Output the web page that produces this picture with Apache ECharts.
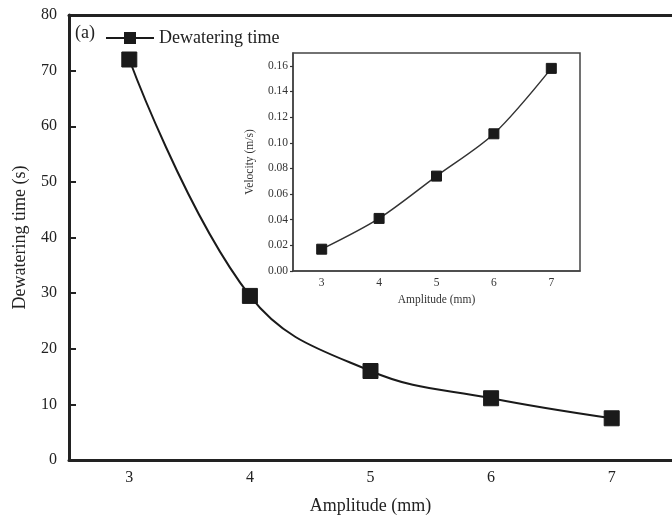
<!DOCTYPE html>
<html><head><meta charset="utf-8">
<script src="https://cdn.jsdelivr.net/npm/echarts@6/dist/echarts.min.js"></script>
<style>html,body{margin:0;padding:0;background:#fff}#c{width:672px;height:524px}</style>
</head><body><div id="c"></div>
<script>
const amplitudes = ['3','4','5','6','7'];
const dewateringTime = [72, 29.5, 16, 11.1, 7.5];
const velocity = [0.017, 0.041, 0.074, 0.107, 0.158];
const mainYTicks = [0,10,20,30,40,50,60,70,80];
const insetYTicks = [0,0.02,0.04,0.06,0.08,0.10,0.12,0.14,0.16];

const F = 'Liberation Serif, Times New Roman, serif';
const C = '#1a1a1a';
const chart = echarts.init(document.getElementById('c'));
chart.setOption({
  animation:false,
  backgroundColor:'#fff',
  graphic:[{type:'text', left:75, top:24, style:{text:'(a)', font:'18px '+F, fill:'#222'}}],
  legend:{left:100, top:24, data:['Dewatering time'], itemWidth:48, itemHeight:15,
    textStyle:{fontFamily:F, fontSize:18, color:'#222'}},
  grid:[
    {left:69, top:15, width:609, height:445},
    {left:293, top:53, width:287, height:218, show:true, borderColor:'#444', borderWidth:1.5, backgroundColor:'#fff', z:5}
  ],
  xAxis:[
    {type:'category', gridIndex:0, data:amplitudes, boundaryGap:true,
     name:'Amplitude (mm)', nameLocation:'middle', nameGap:37,
     nameTextStyle:{fontFamily:F, fontSize:18, color:'#222'},
     axisLine:{lineStyle:{color:'#222', width:3}},
     axisTick:{inside:true, alignWithLabel:true, length:6, lineStyle:{width:2, color:'#222'}},
     axisLabel:{fontFamily:F, fontSize:16, color:'#222', margin:10}},
    {type:'category', gridIndex:1, data:amplitudes, boundaryGap:true,
     name:'Amplitude (mm)', nameLocation:'middle', nameGap:23,
     nameTextStyle:{fontFamily:F, fontSize:11.5, color:'#333'},
     axisLine:{lineStyle:{color:'#444', width:1.5}},
     axisTick:{inside:false, alignWithLabel:true, length:3, lineStyle:{width:1.2, color:'#333'}},
     axisLabel:{fontFamily:F, fontSize:11.5, color:'#333', margin:6}, z:6},
    {type:'category', gridIndex:0, position:'top', data:amplitudes, boundaryGap:true,
     axisLine:{lineStyle:{color:'#222', width:3}},
     axisTick:{show:false}, axisLabel:{show:false}}
  ],
  yAxis:[
    {type:'value', gridIndex:0, min:0, max:80, interval:10,
     name:'Dewatering time (s)', nameLocation:'middle', nameGap:40,
     nameTextStyle:{fontFamily:F, fontSize:18, color:'#222'},
     axisLine:{show:true, lineStyle:{color:'#222', width:3}},
     axisTick:{show:true, inside:true, length:7, lineStyle:{width:2, color:'#222'}},
     splitLine:{show:false},
     axisLabel:{fontFamily:F, fontSize:16, color:'#222', margin:12}},
    {type:'value', gridIndex:1, min:0, max:0.17, interval:0.02,
     name:'Velocity (m/s)', nameLocation:'middle', nameGap:37,
     nameTextStyle:{fontFamily:F, fontSize:11.5, color:'#333'},
     axisLine:{show:true, lineStyle:{color:'#444', width:1.5}},
     axisTick:{show:true, inside:false, length:3, lineStyle:{width:1.2, color:'#333'}},
     splitLine:{show:false}, z:6,
     axisLabel:{fontFamily:F, fontSize:11.5, color:'#333', margin:5, showMaxLabel:false,
       formatter:v=>v.toFixed(2)}}
  ],
  series:[
    {name:'Dewatering time', type:'line', xAxisIndex:0, yAxisIndex:0, data:dewateringTime,
     smooth:0.4, symbol:'rect', symbolSize:15, showAllSymbol:true,
     lineStyle:{color:C, width:2}, itemStyle:{color:C, borderColor:C}},
    {name:'Velocity', type:'line', xAxisIndex:1, yAxisIndex:1, data:velocity, z:7,
     smooth:0.3, symbol:'rect', symbolSize:10,
     lineStyle:{color:'#333', width:1.5}, itemStyle:{color:C, borderColor:C}}
  ]
});
</script></body></html>
